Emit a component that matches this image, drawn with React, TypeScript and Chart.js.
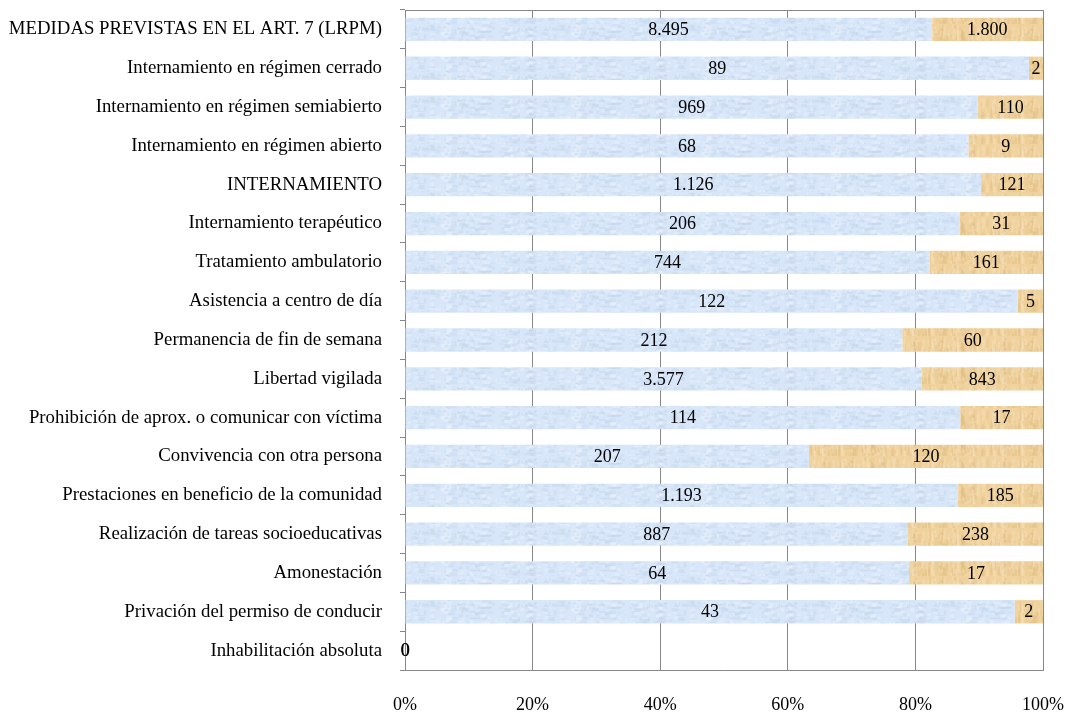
import { useEffect, useRef } from 'react';
import { Chart, registerables } from 'chart.js';

Chart.register(...registerables);

const categories = [
  'MEDIDAS PREVISTAS EN EL ART. 7 (LRPM)',
  'Internamiento en régimen cerrado',
  'Internamiento en régimen semiabierto',
  'Internamiento en régimen abierto',
  'INTERNAMIENTO',
  'Internamiento terapéutico',
  'Tratamiento ambulatorio',
  'Asistencia a centro de día',
  'Permanencia de fin de semana',
  'Libertad vigilada',
  'Prohibición de aprox. o comunicar con víctima',
  'Convivencia con otra persona',
  'Prestaciones en beneficio de la comunidad',
  'Realización de tareas socioeducativas',
  'Amonestación',
  'Privación del permiso de conducir',
  'Inhabilitación absoluta',
];

const serieAzul = [8495, 89, 969, 68, 1126, 206, 744, 122, 212, 3577, 114, 207, 1193, 887, 64, 43, 0];
const serieOcre = [1800, 2, 110, 9, 121, 31, 161, 5, 60, 843, 17, 120, 185, 238, 17, 2, 0];

const xTickValues = [0, 20, 40, 60, 80, 100];

const FONT = "'Liberation Serif', 'Times New Roman', serif";
const GRID = '#878787';

function fmt(n: number): string {
  return n.toString().replace(/\B(?=(\d{3})+(?!\d))/g, '.');
}

function pct(a: number[], b: number[], own: number[]): number[] {
  return own.map((v, i) => {
    const t = a[i] + b[i];
    return t === 0 ? 0 : (v / t) * 100;
  });
}

// decorative texture tile (styling only)
function makePattern(base: string, dark: string, light: string, w: number, h: number, seed: number, streaks: boolean) {
  const c = document.createElement('canvas');
  c.width = w;
  c.height = h;
  const g = c.getContext('2d')!;
  g.fillStyle = base;
  g.fillRect(0, 0, w, h);
  let s = seed;
  const next = () => {
    s = (s * 9301 + 49297) % 233280;
    return s / 233280;
  };
  for (let i = 0; i < 240; i++) {
    g.globalAlpha = 0.25 + next() * 0.25;
    g.fillStyle = next() < 0.5 ? dark : light;
    const x = next() * w;
    const y = next() * h;
    if (streaks) g.fillRect(x, y, 1 + next() * 2, 3 + next() * 8);
    else g.fillRect(x, y, 2 + next() * 5, 1 + next() * 3);
  }
  g.globalAlpha = 1;
  return g.createPattern(c, 'repeat') as CanvasPattern;
}

const labelsPlugin = {
  id: 'segLabels',
  afterDatasetsDraw(chart: any) {
    const ctx = chart.ctx;
    ctx.save();
    ctx.font = `18px ${FONT}`;
    ctx.fillStyle = '#000';
    ctx.textAlign = 'center';
    ctx.textBaseline = 'middle';
    const raws = [serieAzul, serieOcre];
    chart.data.datasets.forEach((_ds: any, di: number) => {
      const meta = chart.getDatasetMeta(di);
      meta.data.forEach((el: any, i: number) => {
        const cx = (el.x + el.base) / 2;
        ctx.fillText(fmt(raws[di][i]), cx + (raws[di][i] === 0 ? di * 0.6 : 0), el.y + 1);
      });
    });
    ctx.restore();
  },
};

const topBorderPlugin = {
  id: 'topBorder',
  afterDraw(chart: any) {
    const { ctx, chartArea } = chart;
    ctx.save();
    ctx.strokeStyle = GRID;
    ctx.lineWidth = 1;
    ctx.beginPath();
    ctx.moveTo(chartArea.left, Math.round(chartArea.top) + 0.5);
    ctx.lineTo(chartArea.right, Math.round(chartArea.top) + 0.5);
    ctx.stroke();
    ctx.restore();
  },
};

export default function App() {
  const ref = useRef<HTMLCanvasElement | null>(null);

  useEffect(() => {
    if (!ref.current) return;
    const blue = makePattern('#d7e6f8', '#c2d4ea', '#ecf4fe', 130, 24, 17, false);
    const tan = makePattern('#f0d29e', '#e2bf82', '#f7e2bb', 90, 24, 41, true);
    const chart = new Chart(ref.current, {
      type: 'bar',
      data: {
        labels: categories,
        datasets: [
          {
            label: 'A',
            data: pct(serieAzul, serieOcre, serieAzul),
            backgroundColor: blue,
            borderWidth: 0,
            categoryPercentage: 1,
            barPercentage: 0.6,
          },
          {
            label: 'B',
            data: pct(serieAzul, serieOcre, serieOcre),
            backgroundColor: tan,
            borderWidth: 0,
            categoryPercentage: 1,
            barPercentage: 0.6,
          },
        ],
      },
      options: {
        indexAxis: 'y',
        animation: false,
        responsive: true,
        maintainAspectRatio: false,
        layout: { padding: { top: 10, right: 23, left: 0, bottom: 0 } },
        plugins: {
          legend: { display: false },
          tooltip: { enabled: false },
        },
        scales: {
          x: {
            stacked: true,
            min: 0,
            max: 100,
            afterFit: (s: any) => {
              s.height = 43;
              s.paddingLeft = 0;
              s.paddingRight = 0;
            },
            afterBuildTicks: (s: any) => {
              s.ticks = xTickValues.map((v) => ({ value: v }));
            },
            ticks: {
              callback: (v: any) => `${v}%`,
              font: { family: FONT, size: 18 },
              color: '#000',
              padding: 24,
              maxRotation: 0,
            },
            grid: { color: GRID, drawTicks: false, lineWidth: 1 },
            border: { color: GRID },
          },
          y: {
            stacked: true,
            afterFit: (s: any) => {
              s.width = 405;
              s.paddingTop = 0;
              s.paddingBottom = 0;
            },
            ticks: {
              font: { family: FONT, size: 18.8 },
              color: '#000',
              padding: 18,
              autoSkip: false,
            },
            grid: { drawOnChartArea: false, drawTicks: true, tickLength: 5, tickColor: GRID, offset: true },
            border: { color: GRID },
          },
        },
      },
      plugins: [labelsPlugin, topBorderPlugin],
    });
    return () => chart.destroy();
  }, []);

  return (
    <div style={{ position: 'absolute', left: 0, top: 0, width: 1066, height: 713, background: '#fff' }}>
      <canvas ref={ref} />
    </div>
  );
}
